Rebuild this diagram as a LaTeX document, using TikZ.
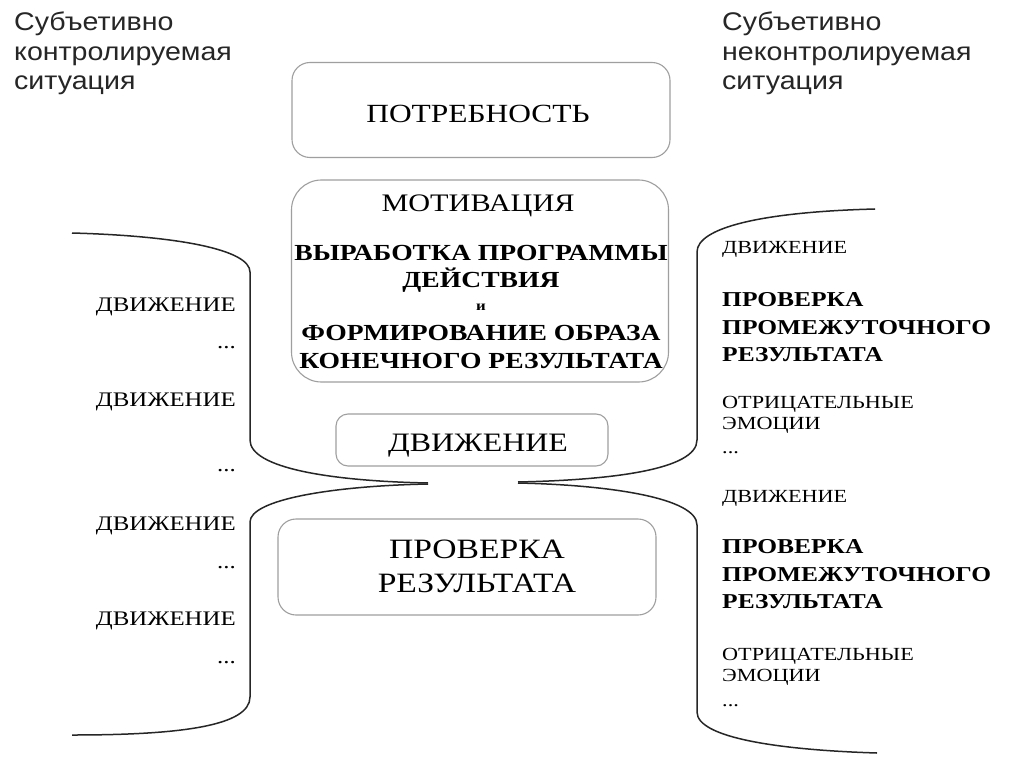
\documentclass[tikz,border=0pt]{standalone}
\usepackage{fontspec}
\setmainfont{Liberation Serif}[FakeStretch=1.2]
\newfontfamily\headfont{Liberation Sans}[FakeStretch=1.12]
\usetikzlibrary{positioning}

\begin{document}
\begin{tikzpicture}[x=1pt, y=-1pt, inner sep=0pt,
	box/.style={draw=gray!75, line width=1.1pt, rounded corners=18pt},
	bracket/.style={draw=black!85, line width=1.5pt},
	head/.style={font=\headfont\fontsize{25.5}{29.5}\selectfont, align=left, anchor=north west, text=black!85},
	leftmove/.style={font=\fontsize{20.7}{24}\selectfont, anchor=base east},
	rightsmall/.style={font=\fontsize{18.5}{22}\selectfont, anchor=base west},
	rightbold/.style={font=\bfseries\fontsize{21.2}{25}\selectfont, anchor=base west},
	progline/.style={font=\bfseries\fontsize{23}{27}\selectfont, anchor=base}]
	\useasboundingbox[fill=white] (0,0) rectangle (1024,767);
	\node[head] (ctrl) at (14,12) {Субъетивно\\контролируемая\\ситуация};
	\node[head] (unctrl) at (722,12) {Субъетивно\\неконтролируемая\\ситуация};
	\node[box, minimum width=378, minimum height=95] (need) at (481,110) {};
	\node[font=\fontsize{26.2}{30}\selectfont, anchor=base] (needtxt) at (478,123) {ПОТРЕБНОСТЬ};
	\node[box, rounded corners=30pt, minimum width=377, minimum height=202] (motiv) at (480,281) {};
	\node[font=\fontsize{25.2}{30}\selectfont, anchor=base] (motivtxt) at (478,212) {МОТИВАЦИЯ};
	\node[progline] (prog1) at (481,260) {ВЫРАБОТКА ПРОГРАММЫ};
	\node[progline] (prog2) at (481,287) {ДЕЙСТВИЯ};
	\node[progline, font=\bfseries\fontsize{14}{16}\selectfont] (and) at (481,310) {и};
	\node[progline] (form1) at (481,340) {ФОРМИРОВАНИЕ ОБРАЗА};
	\node[progline] (form2) at (481,368) {КОНЕЧНОГО РЕЗУЛЬТАТА};
	\node[box, rounded corners=12pt, minimum width=272, minimum height=52] (move) at (472,440) {};
	\node[font=\fontsize{26.6}{30}\selectfont, anchor=base] (movetxt) at (478,451) {ДВИЖЕНИЕ};
	\node[box, minimum width=378, minimum height=96] (check) at (467,567) {};
	\node[font=\fontsize{28}{34}\selectfont, align=center, anchor=base] (checktxt) at (477,592) {ПРОВЕРКА\\РЕЗУЛЬТАТА};
	\draw[bracket] (72,233) .. controls (180,236) and (250,250) .. (250,272) -- (250,440)
	  .. controls (250,468) and (330,481) .. (428,483);
	\draw[bracket] (428,484) .. controls (330,486) and (250,500) .. (250,522) -- (250,697)
	  .. controls (250,726) and (180,735) .. (72,735);
	\draw[bracket] (875,209) .. controls (760,212) and (697,228) .. (697,252) -- (697,440)
	  .. controls (697,470) and (610,480) .. (518,482);
	\draw[bracket] (518,483) .. controls (610,485) and (697,498) .. (697,525) -- (697,712)
	  .. controls (697,738) and (780,750) .. (877,753);
	\node[leftmove] (l1) at (236,311) {ДВИЖЕНИЕ};
	\node[leftmove] (l2) at (236,348) {...};
	\node[leftmove] (l3) at (236,406) {ДВИЖЕНИЕ};
	\node[leftmove] (l4) at (236,471) {...};
	\node[leftmove] (l5) at (236,530) {ДВИЖЕНИЕ};
	\node[leftmove] (l6) at (236,568) {...};
	\node[leftmove] (l7) at (236,625) {ДВИЖЕНИЕ};
	\node[leftmove] (l8) at (236,663) {...};
	\node[rightsmall] (r1) at (722,253) {ДВИЖЕНИЕ};
	\node[rightbold] (r2) at (722,306) {ПРОВЕРКА};
	\node[rightbold] (r3) at (722,334) {ПРОМЕЖУТОЧНОГО};
	\node[rightbold] (r4) at (722,361) {РЕЗУЛЬТАТА};
	\node[rightsmall] (r5) at (722,408) {ОТРИЦАТЕЛЬНЫЕ};
	\node[rightsmall] (r6) at (722,429) {ЭМОЦИИ};
	\node[rightsmall] (r7) at (722,453) {...};
	\node[rightsmall] (r8) at (722,502) {ДВИЖЕНИЕ};
	\node[rightbold] (r9) at (722,553) {ПРОВЕРКА};
	\node[rightbold] (r10) at (722,581) {ПРОМЕЖУТОЧНОГО};
	\node[rightbold] (r11) at (722,608) {РЕЗУЛЬТАТА};
	\node[rightsmall] (r12) at (722,660) {ОТРИЦАТЕЛЬНЫЕ};
	\node[rightsmall] (r13) at (722,681) {ЭМОЦИИ};
	\node[rightsmall] (r14) at (722,706) {...};
\end{tikzpicture}
\end{document}
